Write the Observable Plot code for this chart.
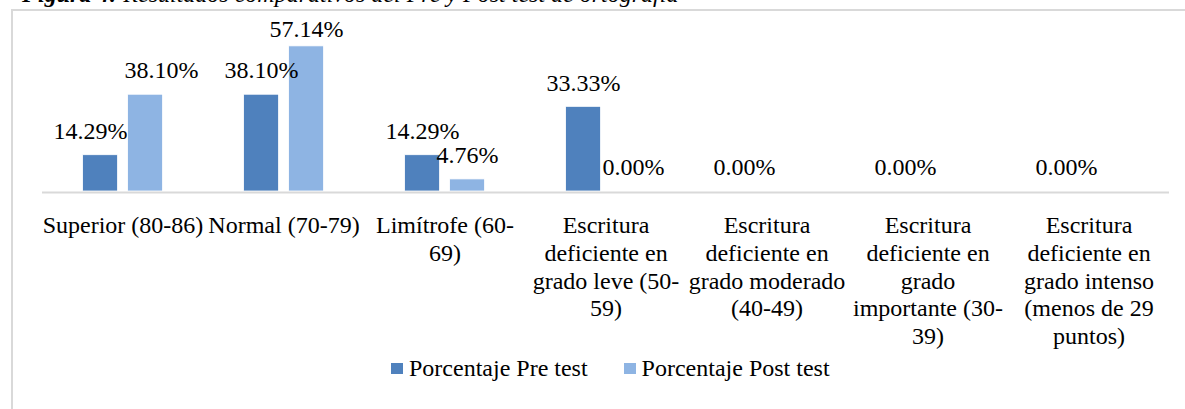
<!DOCTYPE html>
<html>
<head>
<meta charset="utf-8">
<script src="https://cdn.jsdelivr.net/npm/d3@7"></script>
<script src="https://cdn.jsdelivr.net/npm/@observablehq/plot@0.6"></script>
<style>
  html, body { margin: 0; padding: 0; background: #fff; }
  body { position: relative; width: 1185px; height: 409px; overflow: hidden;
         font-family: "Liberation Serif", "Times New Roman", serif; color: #000; }
  #frame { position: absolute; left: 11px; top: 9px; width: 1200px; height: 440px;
           border: 2px solid #d9d9d9; box-sizing: border-box; }
  #title { position: absolute; left: 22px; top: -18px; font-size: 24px; line-height: 24px;
           font-style: italic; white-space: nowrap; }
  #chart { position: absolute; left: 0; top: 0; }
  #chart svg, #chart svg text, #chart svg tspan { font-family: "Liberation Serif", "Times New Roman", serif !important; }
  #legend { position: absolute; left: 391px; top: 356px; display: flex; align-items: center;
            font-size: 24px; line-height: 24px; white-space: nowrap; }
  #legend .sw { display: inline-block; width: 12px; height: 11px; margin-right: 6px; }
  #legend .item { display: flex; align-items: center; }
  #legend .item + .item { margin-left: 36px; }
</style>
</head>
<body>
<div id="frame"></div>
<div id="title"><b>Figura 4:</b> Resultados comparativos del Pre y Post test de ortografía</div>
<div id="chart"></div>
<div id="legend"></div>
<script>
// ---- data ----
const categories = [
  "Superior (80-86)",
  "Normal (70-79)",
  "Limítrofe (60-69)",
  "Escritura deficiente en grado leve (50-59)",
  "Escritura deficiente en grado moderado (40-49)",
  "Escritura deficiente en grado importante (30-39)",
  "Escritura deficiente en grado intenso (menos de 29 puntos)"
];
const tickLabels = [
  "Superior (80-86)",
  "Normal (70-79)",
  "Limítrofe (60-\n69)",
  "Escritura\ndeficiente en\ngrado leve (50-\n59)",
  "Escritura\ndeficiente en\ngrado moderado\n(40-49)",
  "Escritura\ndeficiente en\ngrado\nimportante (30-\n39)",
  "Escritura\ndeficiente en\ngrado intenso\n(menos de 29\npuntos)"
];
const series = ["Porcentaje Pre test", "Porcentaje Post test"];
const preValues = [14.29, 38.10, 14.29, 33.33, 0.00, 0.00, 0.00];
const postValues = [38.10, 57.14, 4.76, 0.00, null, null, null];
const colors = ["#4f81bd", "#8eb4e3"];

// ---- table ----
const rows = categories.flatMap((c, i) => [
  {cat: c, serie: series[0], value: preValues[i]},
  {cat: c, serie: series[1], value: postValues[i]}
]).filter(d => d.value != null);

// label horizontal nudges (layout, as placed in the original)
const labelNudge = new Map([
  [categories[0] + "|" + series[0], -10],
  [categories[0] + "|" + series[1], 16],
  [categories[3] + "|" + series[1], 5]
]);
const nudgeOf = d => labelNudge.get(d.cat + "|" + d.serie) ?? 0;
const nudges = [...new Set(rows.map(nudgeOf))];
const serif = "Liberation Serif, Times New Roman, serif";

const labelMarks = nudges.map(n => Plot.text(rows.filter(d => nudgeOf(d) === n), {
  fx: "cat", x: "serie",
  y: d => Math.min(d.value, 54.3),
  text: d => d.value.toFixed(2) + "%",
  dy: -24, dx: n, fontSize: 24, fontFamily: serif, fill: "#000"
}));

const chart = Plot.plot({
  width: 1185,
  height: 352,
  marginLeft: 41.4,
  marginRight: 14.5,
  marginTop: 38.6,
  marginBottom: 161,
  style: {fontFamily: serif, fontSize: "24px", color: "#000", background: "transparent", overflow: "visible"},
  fx: {domain: categories, padding: 0, label: null},
  x: {domain: series, paddingInner: 10 / 46, paddingOuter: 0.862, axis: null},
  y: {domain: [0, 60], axis: null},
  color: {domain: series, range: colors},
  marks: [
    Plot.barY(rows, {fx: "cat", x: "serie", y: "value", fill: "serie", stroke: "#fff", strokeWidth: 0.8}),
    Plot.ruleY([0], {stroke: "#d9d9d9", strokeWidth: 2, dy: 1}),
    ...labelMarks,
    Plot.axisFx({anchor: "bottom", tickSize: 0, tickPadding: 22, fontSize: 24, fontFamily: serif,
                 lineHeight: 1.155, label: null, fill: "#000",
                 tickFormat: d => tickLabels[categories.indexOf(d)]})
  ]
});
document.getElementById("chart").appendChild(chart);

// legend
const legend = document.getElementById("legend");
series.forEach((s, i) => {
  const item = document.createElement("div");
  item.className = "item";
  const sw = document.createElement("span");
  sw.className = "sw";
  sw.style.background = colors[i];
  item.appendChild(sw);
  item.appendChild(document.createTextNode(s));
  legend.appendChild(item);
});
</script>
</body>
</html>
